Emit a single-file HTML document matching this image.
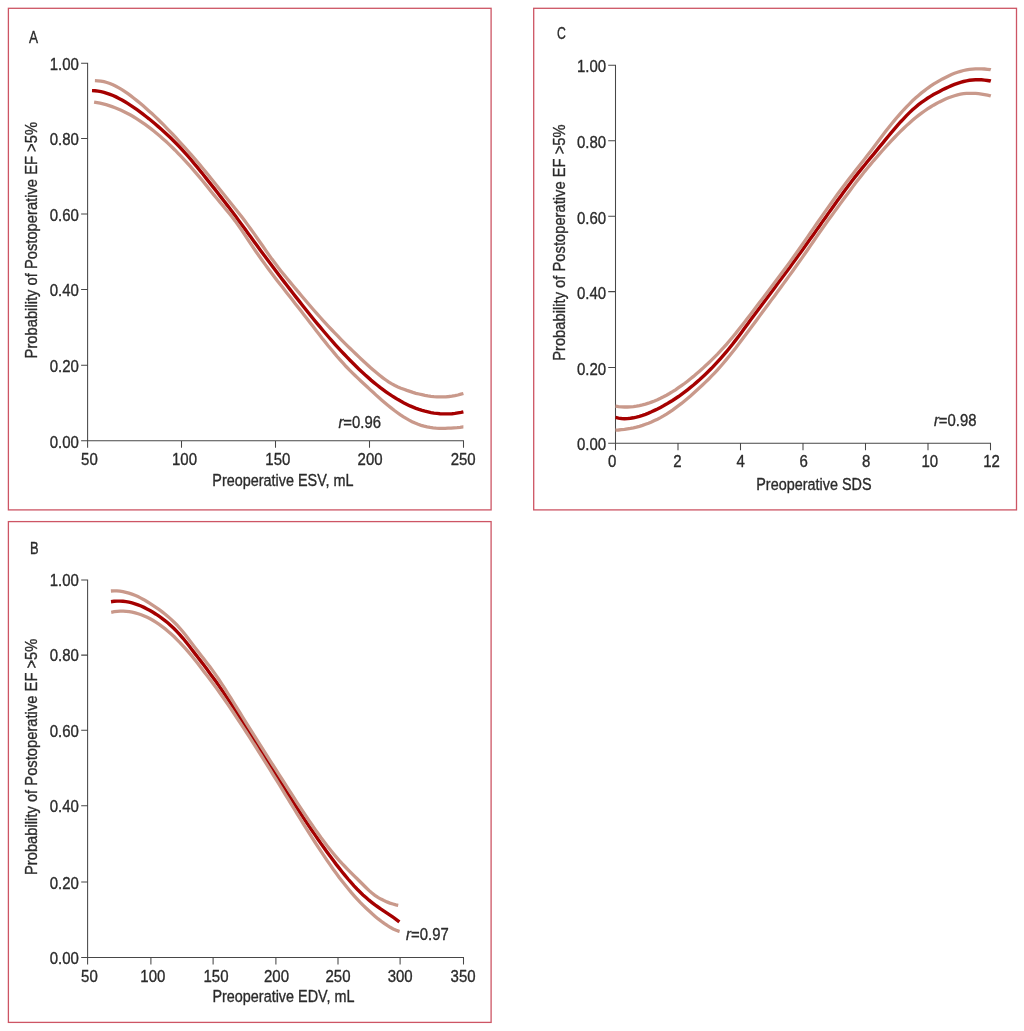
<!DOCTYPE html>
<html lang="en">
<head>
<meta charset="utf-8">
<title>Probability of Postoperative EF &gt;5%</title>
<style>
html,body{margin:0;padding:0;background:#fff;}
body{width:1024px;height:1031px;overflow:hidden;}
svg{display:block;}
text{font-family:"Liberation Sans",sans-serif;fill:#2b2b2b;stroke:#2b2b2b;stroke-width:0.35;stroke-linejoin:round;}
.frame{fill:none;stroke:#cd5564;stroke-width:1.3;}
.ax{fill:none;stroke:#474747;stroke-width:1.05;}
.mid{fill:none;stroke:#a50000;stroke-width:3.4;}
.band{fill:none;stroke:#c9998b;stroke-width:3.3;}
</style>
</head>
<body>
<svg width="1024" height="1031" viewBox="0 0 1024 1031">
<rect x="0" y="0" width="1024" height="1031" fill="#ffffff"/>
<g id="panel-A">
<rect class="frame" x="8.4" y="8.3" width="482.7" height="501.6"/>
<text transform="translate(29.00,43.00) scale(0.79,1)" text-anchor="start" font-size="17.2">A</text>
<path class="ax" d="M81.1,63.2 H87.6 V447.8 M81.1,440.8 H463.5 V447.8 M81.1,138.5 H87.6 M81.1,213.9 H87.6 M81.1,289.4 H87.6 M81.1,365.2 H87.6 M181.5,440.8 V447.8 M275.5,440.8 V447.8 M369.5,440.8 V447.8"/>
<text transform="translate(78.90,69.80) scale(0.872,1)" text-anchor="end" font-size="17.2">1.00</text>
<text transform="translate(78.90,145.22) scale(0.872,1)" text-anchor="end" font-size="17.2">0.80</text>
<text transform="translate(78.90,220.74) scale(0.872,1)" text-anchor="end" font-size="17.2">0.60</text>
<text transform="translate(78.90,296.36) scale(0.872,1)" text-anchor="end" font-size="17.2">0.40</text>
<text transform="translate(78.90,372.28) scale(0.872,1)" text-anchor="end" font-size="17.2">0.20</text>
<text transform="translate(78.90,448.00) scale(0.872,1)" text-anchor="end" font-size="17.2">0.00</text>
<text transform="translate(89.40,465.10) scale(0.872,1)" text-anchor="middle" font-size="17.2">50</text>
<text transform="translate(184.50,465.10) scale(0.872,1)" text-anchor="middle" font-size="17.2">100</text>
<text transform="translate(277.80,465.10) scale(0.872,1)" text-anchor="middle" font-size="17.2">150</text>
<text transform="translate(370.10,465.10) scale(0.872,1)" text-anchor="middle" font-size="17.2">200</text>
<text transform="translate(463.20,465.10) scale(0.872,1)" text-anchor="middle" font-size="17.2">250</text>
<text transform="translate(282.90,485.60) scale(0.838,1)" text-anchor="middle" font-size="17.2">Preoperative ESV, mL</text>
<text transform="translate(36.90,240.20) rotate(-90) scale(0.8575,1)" text-anchor="middle" font-size="17.2">Probability of Postoperative EF &gt;5%</text>
<text transform="translate(338.40,428.40) scale(0.865,1)" text-anchor="start" font-size="17.2"><tspan font-style="italic">r</tspan>=0.96</text>
<path class="mid" d="M92.0,90.6 L95.0,90.7 L98.0,91.1 L101.0,91.6 L104.0,92.3 L107.0,93.3 L110.0,94.3 L113.0,95.5 L116.0,96.9 L119.0,98.4 L122.0,100.0 L125.0,101.8 L128.0,103.6 L131.0,105.6 L134.0,107.6 L137.0,109.7 L140.0,111.9 L143.0,114.2 L146.0,116.5 L149.0,118.8 L152.0,121.3 L155.0,123.8 L158.0,126.4 L161.0,129.0 L164.0,131.7 L167.0,134.5 L170.0,137.3 L173.0,140.2 L176.0,143.2 L179.0,146.3 L182.0,149.5 L185.0,152.8 L188.0,156.2 L191.0,159.7 L194.0,163.3 L197.0,166.9 L200.0,170.6 L203.0,174.3 L206.0,178.1 L209.0,181.9 L212.0,185.6 L215.0,189.4 L218.0,193.3 L221.0,197.1 L224.0,201.0 L227.0,204.9 L230.0,208.8 L233.0,212.8 L236.0,216.8 L239.0,220.9 L242.0,224.9 L245.0,229.1 L248.0,233.2 L251.0,237.3 L254.0,241.5 L257.0,245.6 L260.0,249.7 L263.0,253.7 L266.0,257.8 L269.0,261.8 L272.0,265.8 L275.0,269.8 L278.0,273.8 L281.0,277.7 L284.0,281.6 L287.0,285.5 L290.0,289.4 L293.0,293.3 L296.0,297.1 L299.0,300.9 L302.0,304.7 L305.0,308.5 L308.0,312.2 L311.0,316.0 L314.0,319.7 L317.0,323.3 L320.0,326.9 L323.0,330.5 L326.0,334.0 L329.0,337.5 L332.0,340.9 L335.0,344.3 L338.0,347.6 L341.0,350.8 L344.0,354.0 L347.0,357.2 L350.0,360.3 L353.0,363.3 L356.0,366.3 L359.0,369.2 L362.0,372.0 L365.0,374.8 L368.0,377.4 L371.0,380.1 L374.0,382.6 L377.0,385.0 L380.0,387.4 L383.0,389.6 L386.0,391.8 L389.0,393.9 L392.0,395.9 L395.0,397.8 L398.0,399.6 L401.0,401.3 L404.0,402.9 L407.0,404.4 L410.0,405.9 L413.0,407.1 L416.0,408.3 L419.0,409.4 L422.0,410.4 L425.0,411.2 L428.0,411.9 L431.0,412.6 L434.0,413.1 L437.0,413.4 L440.0,413.7 L443.0,413.9 L446.0,413.9 L449.0,413.9 L452.0,413.7 L455.0,413.4 L458.0,412.9 L461.0,412.4 L463.4,411.9"/>
<path class="band" d="M94.9,80.7 L97.9,80.8 L100.9,81.1 L103.9,81.7 L106.9,82.5 L109.9,83.5 L112.9,84.8 L115.9,86.2 L118.9,87.9 L121.9,89.7 L124.9,91.6 L127.9,93.7 L130.9,95.9 L133.9,98.2 L136.9,100.6 L139.9,103.1 L142.9,105.6 L145.9,108.2 L148.9,110.9 L151.9,113.6 L154.9,116.4 L157.9,119.3 L160.9,122.2 L163.9,125.2 L166.9,128.3 L169.9,131.4 L172.9,134.5 L175.9,137.7 L178.9,141.0 L181.9,144.3 L184.9,147.6 L187.9,151.0 L190.9,154.4 L193.9,157.9 L196.9,161.4 L199.9,164.9 L202.9,168.5 L205.9,172.1 L208.9,175.8 L211.9,179.5 L214.9,183.2 L217.9,187.0 L220.9,190.8 L223.9,194.6 L226.9,198.3 L229.9,202.1 L232.9,205.8 L235.9,209.5 L238.9,213.3 L241.9,217.1 L244.9,221.0 L247.9,225.1 L250.9,229.2 L253.9,233.4 L256.9,237.7 L259.9,242.0 L262.9,246.3 L265.9,250.6 L268.9,254.9 L271.9,259.1 L274.9,263.1 L277.9,267.1 L280.9,270.9 L283.9,274.6 L286.9,278.3 L289.9,281.9 L292.9,285.5 L295.9,289.1 L298.9,292.6 L301.9,296.2 L304.9,299.8 L307.9,303.3 L310.9,306.8 L313.9,310.3 L316.9,313.7 L319.9,317.0 L322.9,320.4 L325.9,323.6 L328.9,326.8 L331.9,330.0 L334.9,333.1 L337.9,336.2 L340.9,339.3 L343.9,342.3 L346.9,345.3 L349.9,348.2 L352.9,351.1 L355.9,354.0 L358.9,356.9 L361.9,359.7 L364.9,362.4 L367.9,365.2 L370.9,367.9 L373.9,370.5 L376.9,373.1 L379.9,375.5 L382.9,377.9 L385.9,380.0 L388.9,382.1 L391.9,383.9 L394.9,385.5 L397.9,386.9 L400.9,388.2 L403.9,389.3 L406.9,390.4 L409.9,391.4 L412.9,392.4 L415.9,393.3 L418.9,394.0 L421.9,394.7 L424.9,395.4 L427.9,395.9 L430.9,396.3 L433.9,396.6 L436.9,396.8 L439.9,396.9 L442.9,396.9 L445.9,396.8 L448.9,396.5 L451.9,396.1 L454.9,395.6 L457.9,395.0 L460.9,394.2 L463.4,393.5"/>
<path class="band" d="M94.1,102.2 L97.1,102.7 L100.1,103.2 L103.1,103.9 L106.1,104.7 L109.1,105.6 L112.1,106.6 L115.1,107.7 L118.1,108.9 L121.1,110.2 L124.1,111.7 L127.1,113.2 L130.1,114.8 L133.1,116.5 L136.1,118.4 L139.1,120.3 L142.1,122.3 L145.1,124.4 L148.1,126.6 L151.1,128.9 L154.1,131.2 L157.1,133.7 L160.1,136.3 L163.1,138.9 L166.1,141.6 L169.1,144.4 L172.1,147.3 L175.1,150.2 L178.1,153.3 L181.1,156.4 L184.1,159.6 L187.1,162.9 L190.1,166.2 L193.1,169.6 L196.1,173.1 L199.1,176.6 L202.1,180.2 L205.1,183.9 L208.1,187.6 L211.1,191.4 L214.1,195.1 L217.1,198.8 L220.1,202.4 L223.1,206.0 L226.1,209.6 L229.1,213.3 L232.1,217.0 L235.1,220.9 L238.1,225.1 L241.1,229.4 L244.1,233.8 L247.1,238.3 L250.1,242.8 L253.1,247.3 L256.1,251.7 L259.1,256.0 L262.1,260.2 L265.1,264.4 L268.1,268.5 L271.1,272.5 L274.1,276.5 L277.1,280.4 L280.1,284.3 L283.1,288.1 L286.1,291.9 L289.1,295.7 L292.1,299.5 L295.1,303.4 L298.1,307.2 L301.1,311.1 L304.1,314.9 L307.1,318.8 L310.1,322.7 L313.1,326.6 L316.1,330.5 L319.1,334.3 L322.1,338.2 L325.1,341.9 L328.1,345.7 L331.1,349.3 L334.1,352.9 L337.1,356.5 L340.1,359.9 L343.1,363.2 L346.1,366.5 L349.1,369.6 L352.1,372.6 L355.1,375.5 L358.1,378.4 L361.1,381.2 L364.1,384.0 L367.1,386.8 L370.1,389.6 L373.1,392.3 L376.1,395.1 L379.1,397.8 L382.1,400.4 L385.1,403.0 L388.1,405.5 L391.1,407.9 L394.1,410.3 L397.1,412.5 L400.1,414.6 L403.1,416.6 L406.1,418.4 L409.1,420.1 L412.1,421.7 L415.1,423.1 L418.1,424.3 L421.1,425.3 L424.1,426.1 L427.1,426.8 L430.1,427.4 L433.1,427.8 L436.1,428.1 L439.1,428.3 L442.1,428.3 L445.1,428.3 L448.1,428.2 L451.1,428.1 L454.1,427.8 L457.1,427.6 L460.1,427.3 L463.1,426.9 L463.4,426.9"/>
</g>
<g id="panel-C">
<rect class="frame" x="533.7" y="8.3" width="482.8" height="501.6"/>
<text transform="translate(556.90,39.30) scale(0.715,1)" text-anchor="start" font-size="17.2">C</text>
<path class="ax" d="M608.2,65.3 H615.5 V450.2 M608.2,443.2 H990.5 V450.2 M608.2,140.7 H615.5 M608.2,216.3 H615.5 M608.2,291.6 H615.5 M608.2,367.4 H615.5 M678.0,443.2 V450.2 M740.5,443.2 V450.2 M803.0,443.2 V450.2 M865.5,443.2 V450.2 M928.0,443.2 V450.2"/>
<text transform="translate(606.20,72.00) scale(0.872,1)" text-anchor="end" font-size="17.2">1.00</text>
<text transform="translate(606.20,147.90) scale(0.872,1)" text-anchor="end" font-size="17.2">0.80</text>
<text transform="translate(606.20,223.65) scale(0.872,1)" text-anchor="end" font-size="17.2">0.60</text>
<text transform="translate(606.20,299.10) scale(0.872,1)" text-anchor="end" font-size="17.2">0.40</text>
<text transform="translate(606.20,374.50) scale(0.872,1)" text-anchor="end" font-size="17.2">0.20</text>
<text transform="translate(606.20,449.75) scale(0.872,1)" text-anchor="end" font-size="17.2">0.00</text>
<text transform="translate(612.20,466.80) scale(0.872,1)" text-anchor="middle" font-size="17.2">0</text>
<text transform="translate(677.50,466.80) scale(0.872,1)" text-anchor="middle" font-size="17.2">2</text>
<text transform="translate(740.70,466.80) scale(0.872,1)" text-anchor="middle" font-size="17.2">4</text>
<text transform="translate(803.60,466.80) scale(0.872,1)" text-anchor="middle" font-size="17.2">6</text>
<text transform="translate(866.10,466.80) scale(0.872,1)" text-anchor="middle" font-size="17.2">8</text>
<text transform="translate(929.80,466.80) scale(0.872,1)" text-anchor="middle" font-size="17.2">10</text>
<text transform="translate(991.50,466.80) scale(0.872,1)" text-anchor="middle" font-size="17.2">12</text>
<text transform="translate(813.90,489.70) scale(0.838,1)" text-anchor="middle" font-size="17.2">Preoperative SDS</text>
<text transform="translate(565.00,242.60) rotate(-90) scale(0.8575,1)" text-anchor="middle" font-size="17.2">Probability of Postoperative EF &gt;5%</text>
<text transform="translate(933.90,425.60) scale(0.865,1)" text-anchor="start" font-size="17.2"><tspan font-style="italic">r</tspan>=0.98</text>
<path class="mid" d="M615.5,417.4 L618.5,418.1 L621.5,418.5 L624.5,418.7 L627.5,418.6 L630.5,418.3 L633.5,417.8 L636.5,417.2 L639.5,416.4 L642.5,415.4 L645.5,414.3 L648.5,413.1 L651.5,411.8 L654.5,410.4 L657.5,409.0 L660.5,407.4 L663.5,405.8 L666.5,404.1 L669.5,402.3 L672.5,400.5 L675.5,398.5 L678.5,396.5 L681.5,394.3 L684.5,392.1 L687.5,389.8 L690.5,387.4 L693.5,385.0 L696.5,382.4 L699.5,379.8 L702.5,377.0 L705.5,374.2 L708.5,371.3 L711.5,368.3 L714.5,365.1 L717.5,361.9 L720.5,358.6 L723.5,355.2 L726.5,351.7 L729.5,348.0 L732.5,344.3 L735.5,340.4 L738.5,336.4 L741.5,332.4 L744.5,328.3 L747.5,324.2 L750.5,320.1 L753.5,316.1 L756.5,312.0 L759.5,308.0 L762.5,304.0 L765.5,299.9 L768.5,295.9 L771.5,291.9 L774.5,287.9 L777.5,283.8 L780.5,279.8 L783.5,275.8 L786.5,271.7 L789.5,267.7 L792.5,263.6 L795.5,259.5 L798.5,255.3 L801.5,251.2 L804.5,247.0 L807.5,242.8 L810.5,238.6 L813.5,234.4 L816.5,230.1 L819.5,225.9 L822.5,221.6 L825.5,217.4 L828.5,213.1 L831.5,208.9 L834.5,204.7 L837.5,200.5 L840.5,196.4 L843.5,192.3 L846.5,188.2 L849.5,184.2 L852.5,180.3 L855.5,176.4 L858.5,172.6 L861.5,168.9 L864.5,165.2 L867.5,161.5 L870.5,157.9 L873.5,154.3 L876.5,150.6 L879.5,146.9 L882.5,143.3 L885.5,139.6 L888.5,136.0 L891.5,132.4 L894.5,128.9 L897.5,125.4 L900.5,122.0 L903.5,118.8 L906.5,115.6 L909.5,112.6 L912.5,109.8 L915.5,107.2 L918.5,104.7 L921.5,102.4 L924.5,100.3 L927.5,98.3 L930.5,96.4 L933.5,94.6 L936.5,93.0 L939.5,91.4 L942.5,89.8 L945.5,88.4 L948.5,87.0 L951.5,85.6 L954.5,84.4 L957.5,83.3 L960.5,82.3 L963.5,81.5 L966.5,80.8 L969.5,80.3 L972.5,80.0 L975.5,79.8 L978.5,79.7 L981.5,79.8 L984.5,80.1 L987.5,80.5 L990.5,81.0 L990.8,81.1"/>
<path class="band" d="M615.5,406.2 L618.5,406.6 L621.5,406.9 L624.5,407.0 L627.5,407.0 L630.5,406.9 L633.5,406.6 L636.5,406.2 L639.5,405.6 L642.5,404.9 L645.5,404.1 L648.5,403.2 L651.5,402.1 L654.5,401.0 L657.5,399.7 L660.5,398.3 L663.5,396.8 L666.5,395.2 L669.5,393.5 L672.5,391.7 L675.5,389.8 L678.5,387.7 L681.5,385.6 L684.5,383.5 L687.5,381.2 L690.5,378.8 L693.5,376.4 L696.5,373.8 L699.5,371.2 L702.5,368.6 L705.5,365.8 L708.5,363.0 L711.5,360.1 L714.5,357.1 L717.5,354.1 L720.5,350.9 L723.5,347.7 L726.5,344.3 L729.5,340.8 L732.5,337.2 L735.5,333.6 L738.5,329.8 L741.5,326.0 L744.5,322.2 L747.5,318.3 L750.5,314.4 L753.5,310.5 L756.5,306.6 L759.5,302.6 L762.5,298.7 L765.5,294.7 L768.5,290.8 L771.5,286.8 L774.5,282.8 L777.5,278.8 L780.5,274.8 L783.5,270.7 L786.5,266.7 L789.5,262.6 L792.5,258.4 L795.5,254.2 L798.5,250.0 L801.5,245.7 L804.5,241.4 L807.5,237.1 L810.5,232.7 L813.5,228.4 L816.5,224.0 L819.5,219.7 L822.5,215.4 L825.5,211.1 L828.5,206.9 L831.5,202.7 L834.5,198.5 L837.5,194.3 L840.5,190.2 L843.5,186.2 L846.5,182.2 L849.5,178.3 L852.5,174.4 L855.5,170.6 L858.5,166.8 L861.5,163.0 L864.5,159.2 L867.5,155.3 L870.5,151.4 L873.5,147.5 L876.5,143.5 L879.5,139.5 L882.5,135.6 L885.5,131.6 L888.5,127.8 L891.5,124.0 L894.5,120.4 L897.5,116.8 L900.5,113.4 L903.5,110.0 L906.5,106.8 L909.5,103.8 L912.5,100.8 L915.5,98.0 L918.5,95.4 L921.5,92.9 L924.5,90.6 L927.5,88.3 L930.5,86.2 L933.5,84.2 L936.5,82.4 L939.5,80.6 L942.5,78.9 L945.5,77.4 L948.5,75.9 L951.5,74.5 L954.5,73.3 L957.5,72.2 L960.5,71.3 L963.5,70.5 L966.5,69.9 L969.5,69.4 L972.5,69.1 L975.5,68.8 L978.5,68.8 L981.5,68.8 L984.5,69.0 L987.5,69.3 L990.5,69.6 L990.8,69.7"/>
<path class="band" d="M615.5,430.2 L618.5,430.0 L621.5,429.7 L624.5,429.4 L627.5,428.9 L630.5,428.4 L633.5,427.8 L636.5,427.1 L639.5,426.3 L642.5,425.4 L645.5,424.3 L648.5,423.2 L651.5,422.0 L654.5,420.6 L657.5,419.2 L660.5,417.6 L663.5,415.9 L666.5,414.1 L669.5,412.1 L672.5,410.1 L675.5,407.9 L678.5,405.7 L681.5,403.4 L684.5,400.9 L687.5,398.4 L690.5,395.9 L693.5,393.2 L696.5,390.5 L699.5,387.8 L702.5,385.0 L705.5,382.1 L708.5,379.2 L711.5,376.2 L714.5,373.1 L717.5,369.9 L720.5,366.5 L723.5,363.0 L726.5,359.4 L729.5,355.8 L732.5,352.0 L735.5,348.2 L738.5,344.3 L741.5,340.3 L744.5,336.3 L747.5,332.3 L750.5,328.3 L753.5,324.2 L756.5,320.2 L759.5,316.1 L762.5,312.1 L765.5,308.0 L768.5,304.0 L771.5,299.9 L774.5,295.9 L777.5,291.8 L780.5,287.7 L783.5,283.6 L786.5,279.5 L789.5,275.4 L792.5,271.2 L795.5,267.0 L798.5,262.8 L801.5,258.6 L804.5,254.3 L807.5,250.0 L810.5,245.6 L813.5,241.3 L816.5,236.9 L819.5,232.5 L822.5,228.2 L825.5,224.0 L828.5,219.8 L831.5,215.7 L834.5,211.6 L837.5,207.5 L840.5,203.4 L843.5,199.3 L846.5,195.2 L849.5,191.2 L852.5,187.1 L855.5,183.1 L858.5,179.2 L861.5,175.4 L864.5,171.6 L867.5,168.0 L870.5,164.4 L873.5,160.8 L876.5,157.4 L879.5,153.9 L882.5,150.5 L885.5,147.2 L888.5,143.9 L891.5,140.7 L894.5,137.5 L897.5,134.4 L900.5,131.4 L903.5,128.5 L906.5,125.6 L909.5,122.9 L912.5,120.3 L915.5,117.8 L918.5,115.4 L921.5,113.1 L924.5,111.0 L927.5,108.9 L930.5,107.0 L933.5,105.2 L936.5,103.5 L939.5,101.9 L942.5,100.4 L945.5,99.0 L948.5,97.8 L951.5,96.7 L954.5,95.7 L957.5,94.8 L960.5,94.2 L963.5,93.7 L966.5,93.4 L969.5,93.3 L972.5,93.3 L975.5,93.4 L978.5,93.7 L981.5,94.1 L984.5,94.6 L987.5,95.2 L990.5,95.9 L990.8,96.0"/>
</g>
<g id="panel-B">
<rect class="frame" x="8.4" y="521.6" width="482.7" height="500.8"/>
<text transform="translate(29.90,554.40) scale(0.75,1)" text-anchor="start" font-size="17.2">B</text>
<path class="ax" d="M81.2,580.0 H87.6 V964.5 M81.2,957.5 H463.5 V964.5 M81.2,655.1 H87.6 M81.2,730.2 H87.6 M81.2,805.8 H87.6 M81.2,882.0 H87.6 M150.9,957.5 V964.5 M213.1,957.5 V964.5 M275.9,957.5 V964.5 M338.0,957.5 V964.5 M400.1,957.5 V964.5"/>
<text transform="translate(78.85,586.00) scale(0.872,1)" text-anchor="end" font-size="17.2">1.00</text>
<text transform="translate(78.85,661.29) scale(0.872,1)" text-anchor="end" font-size="17.2">0.80</text>
<text transform="translate(78.85,736.58) scale(0.872,1)" text-anchor="end" font-size="17.2">0.60</text>
<text transform="translate(78.85,812.37) scale(0.872,1)" text-anchor="end" font-size="17.2">0.40</text>
<text transform="translate(78.85,888.76) scale(0.872,1)" text-anchor="end" font-size="17.2">0.20</text>
<text transform="translate(78.85,964.45) scale(0.872,1)" text-anchor="end" font-size="17.2">0.00</text>
<text transform="translate(89.40,981.60) scale(0.872,1)" text-anchor="middle" font-size="17.2">50</text>
<text transform="translate(152.80,981.60) scale(0.872,1)" text-anchor="middle" font-size="17.2">100</text>
<text transform="translate(216.00,981.60) scale(0.872,1)" text-anchor="middle" font-size="17.2">150</text>
<text transform="translate(276.50,981.60) scale(0.872,1)" text-anchor="middle" font-size="17.2">200</text>
<text transform="translate(338.00,981.60) scale(0.872,1)" text-anchor="middle" font-size="17.2">250</text>
<text transform="translate(400.15,981.60) scale(0.872,1)" text-anchor="middle" font-size="17.2">300</text>
<text transform="translate(463.10,981.60) scale(0.872,1)" text-anchor="middle" font-size="17.2">350</text>
<text transform="translate(283.40,1002.20) scale(0.838,1)" text-anchor="middle" font-size="17.2">Preoperative EDV, mL</text>
<text transform="translate(36.90,756.80) rotate(-90) scale(0.8575,1)" text-anchor="middle" font-size="17.2">Probability of Postoperative EF &gt;5%</text>
<text transform="translate(406.10,939.80) scale(0.865,1)" text-anchor="start" font-size="17.2"><tspan font-style="italic">r</tspan>=0.97</text>
<path class="mid" d="M111.0,601.7 L114.0,601.3 L117.0,601.1 L120.0,601.1 L123.0,601.3 L126.0,601.6 L129.0,602.2 L132.0,602.9 L135.0,603.8 L138.0,604.8 L141.0,606.0 L144.0,607.4 L147.0,608.9 L150.0,610.5 L153.0,612.3 L156.0,614.2 L159.0,616.2 L162.0,618.3 L165.0,620.6 L168.0,623.0 L171.0,625.7 L174.0,628.5 L177.0,631.6 L180.0,634.8 L183.0,638.3 L186.0,642.0 L189.0,645.8 L192.0,649.7 L195.0,653.6 L198.0,657.5 L201.0,661.4 L204.0,665.3 L207.0,669.3 L210.0,673.4 L213.0,677.5 L216.0,681.6 L219.0,685.9 L222.0,690.2 L225.0,694.6 L228.0,699.1 L231.0,703.6 L234.0,708.2 L237.0,712.8 L240.0,717.5 L243.0,722.2 L246.0,726.9 L249.0,731.6 L252.0,736.4 L255.0,741.2 L258.0,745.9 L261.0,750.7 L264.0,755.5 L267.0,760.4 L270.0,765.2 L273.0,770.0 L276.0,774.8 L279.0,779.5 L282.0,784.3 L285.0,789.1 L288.0,793.8 L291.0,798.5 L294.0,803.2 L297.0,807.9 L300.0,812.5 L303.0,817.1 L306.0,821.6 L309.0,826.1 L312.0,830.5 L315.0,834.9 L318.0,839.3 L321.0,843.6 L324.0,847.8 L327.0,852.0 L330.0,856.1 L333.0,860.1 L336.0,864.1 L339.0,867.9 L342.0,871.7 L345.0,875.4 L348.0,879.0 L351.0,882.4 L354.0,885.8 L357.0,889.0 L360.0,892.0 L363.0,894.9 L366.0,897.6 L369.0,900.2 L372.0,902.6 L375.0,904.9 L378.0,907.0 L381.0,909.1 L384.0,911.1 L387.0,913.1 L390.0,915.1 L393.0,917.2 L396.0,919.3 L399.0,921.6 L399.4,921.9"/>
<path class="band" d="M110.9,591.0 L113.9,590.8 L116.9,590.9 L119.9,591.1 L122.9,591.6 L125.9,592.3 L128.9,593.1 L131.9,594.1 L134.9,595.3 L137.9,596.6 L140.9,598.1 L143.9,599.7 L146.9,601.5 L149.9,603.3 L152.9,605.3 L155.9,607.3 L158.9,609.4 L161.9,611.6 L164.9,614.0 L167.9,616.5 L170.9,619.1 L173.9,622.0 L176.9,625.0 L179.9,628.3 L182.9,631.8 L185.9,635.5 L188.9,639.4 L191.9,643.4 L194.9,647.4 L197.9,651.3 L200.9,655.2 L203.9,659.1 L206.9,662.9 L209.9,666.8 L212.9,670.9 L215.9,675.1 L218.9,679.5 L221.9,684.1 L224.9,688.7 L227.9,693.5 L230.9,698.2 L233.9,703.0 L236.9,707.8 L239.9,712.7 L242.9,717.5 L245.9,722.3 L248.9,727.1 L251.9,731.9 L254.9,736.7 L257.9,741.4 L260.9,746.2 L263.9,750.9 L266.9,755.6 L269.9,760.3 L272.9,765.0 L275.9,769.7 L278.9,774.4 L281.9,779.0 L284.9,783.7 L287.9,788.4 L290.9,793.0 L293.9,797.6 L296.9,802.3 L299.9,806.8 L302.9,811.4 L305.9,815.9 L308.9,820.4 L311.9,824.7 L314.9,829.1 L317.9,833.3 L320.9,837.5 L323.9,841.5 L326.9,845.5 L329.9,849.3 L332.9,853.0 L335.9,856.6 L338.9,860.1 L341.9,863.4 L344.9,866.5 L347.9,869.6 L350.9,872.6 L353.9,875.6 L356.9,878.5 L359.9,881.5 L362.9,884.5 L365.9,887.5 L368.9,890.4 L371.9,893.0 L374.9,895.3 L377.9,897.4 L380.9,899.1 L383.9,900.6 L386.9,901.9 L389.9,903.1 L392.9,904.0 L395.9,904.9 L398.2,905.4"/>
<path class="band" d="M111.2,612.3 L114.2,611.7 L117.2,611.3 L120.2,611.1 L123.2,611.1 L126.2,611.3 L129.2,611.6 L132.2,612.1 L135.2,612.8 L138.2,613.7 L141.2,614.7 L144.2,615.9 L147.2,617.3 L150.2,618.8 L153.2,620.5 L156.2,622.4 L159.2,624.4 L162.2,626.6 L165.2,628.9 L168.2,631.4 L171.2,634.0 L174.2,636.8 L177.2,639.8 L180.2,642.8 L183.2,646.1 L186.2,649.4 L189.2,652.9 L192.2,656.5 L195.2,660.3 L198.2,664.1 L201.2,667.9 L204.2,671.9 L207.2,675.8 L210.2,679.7 L213.2,683.7 L216.2,687.8 L219.2,692.0 L222.2,696.2 L225.2,700.5 L228.2,704.9 L231.2,709.3 L234.2,713.7 L237.2,718.3 L240.2,722.8 L243.2,727.4 L246.2,732.0 L249.2,736.7 L252.2,741.3 L255.2,746.0 L258.2,750.8 L261.2,755.5 L264.2,760.3 L267.2,765.1 L270.2,769.9 L273.2,774.8 L276.2,779.6 L279.2,784.5 L282.2,789.4 L285.2,794.3 L288.2,799.2 L291.2,804.1 L294.2,809.0 L297.2,813.9 L300.2,818.7 L303.2,823.6 L306.2,828.4 L309.2,833.1 L312.2,837.9 L315.2,842.5 L318.2,847.2 L321.2,851.7 L324.2,856.2 L327.2,860.6 L330.2,864.9 L333.2,869.2 L336.2,873.3 L339.2,877.4 L342.2,881.3 L345.2,885.1 L348.2,888.8 L351.2,892.4 L354.2,895.8 L357.2,899.1 L360.2,902.3 L363.2,905.3 L366.2,908.2 L369.2,911.0 L372.2,913.8 L375.2,916.4 L378.2,918.9 L381.2,921.2 L384.2,923.4 L387.2,925.4 L390.2,927.3 L393.2,928.9 L396.2,930.3 L399.2,931.4 L399.6,931.5"/>
</g>
</svg>
</body>
</html>
